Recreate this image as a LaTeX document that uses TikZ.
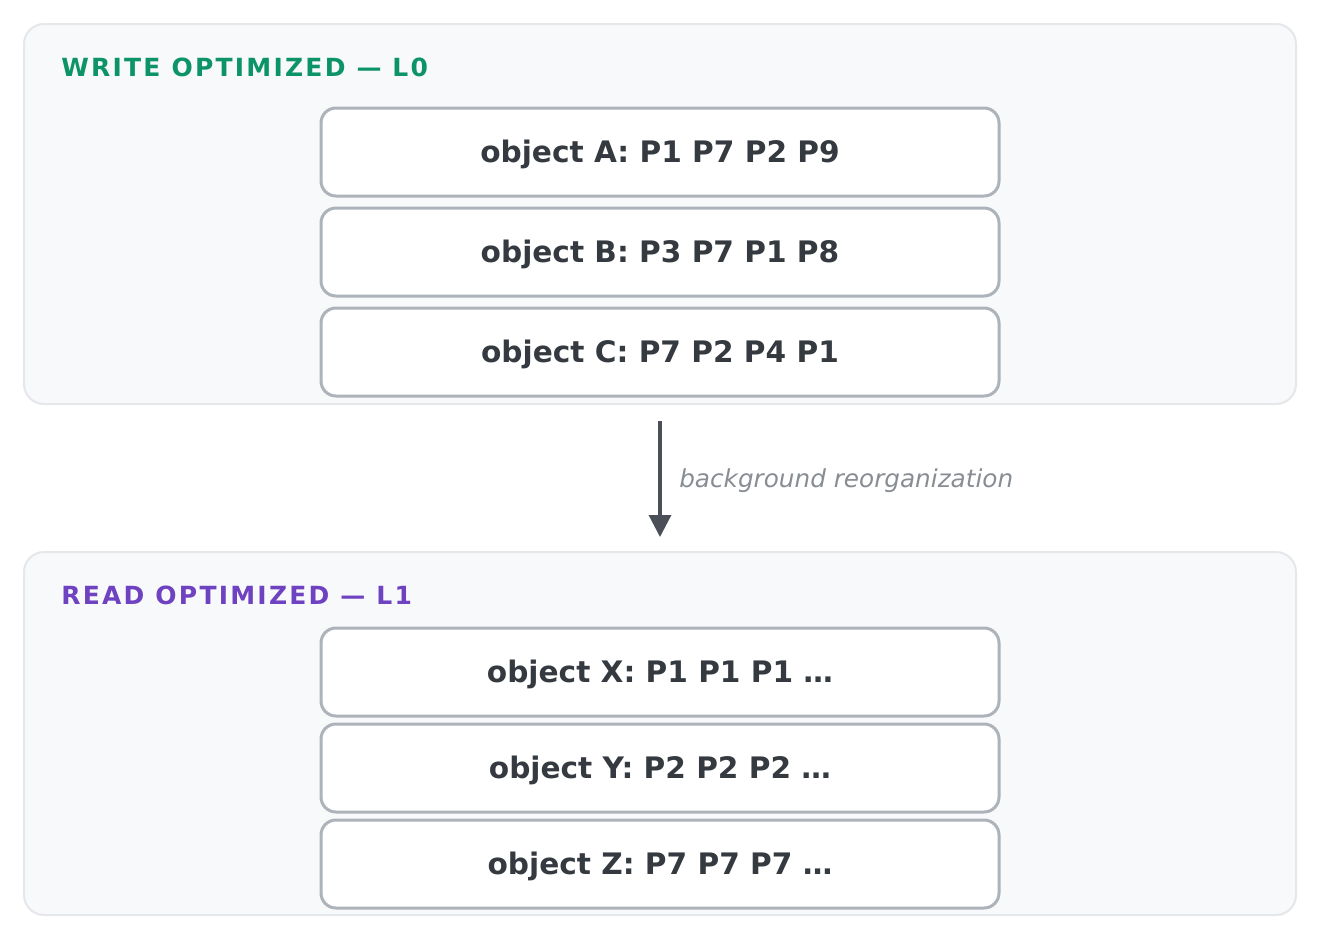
\documentclass[tikz,border=0pt]{standalone}
\usepackage{fontspec}
\setmainfont{DejaVu Sans}
\newfontfamily\tracked{DejaVu Sans}[LetterSpace=9]
\usepackage{tikz}
\usetikzlibrary{arrows.meta}

\definecolor{panelfill}{HTML}{F8F9FB}
\definecolor{paneledge}{HTML}{E5E7EB}
\definecolor{boxedge}{HTML}{ADB3BA}
\definecolor{ink}{HTML}{343A40}
\definecolor{wgreen}{HTML}{0C9466}
\definecolor{rpurple}{HTML}{6F42C1}
\definecolor{arrowgray}{HTML}{4B5058}
\definecolor{notegray}{HTML}{888D94}

\begin{document}
\begin{tikzpicture}[x=1pt, y=-1pt, semithick]
    \tikzstyle{panel}=[rectangle, draw=paneledge, fill=panelfill, line width=2pt, rounded corners=20pt, minimum width=1272pt, inner sep=0pt]
    \tikzstyle{obj}=[rectangle, draw=boxedge, fill=white, line width=3pt, rounded corners=15pt, minimum width=678pt, minimum height=88pt, inner sep=0pt, text height=21.5pt, text depth=0pt, text=ink, font=\fontsize{29.6}{36}\selectfont\bfseries]
    \tikzstyle{title}=[anchor=base west, inner sep=0pt, font=\fontsize{25}{30}\selectfont\tracked\bfseries]

    \useasboundingbox (0,0) rectangle (1320,940);

    % panels
    \node[panel, minimum height=380pt] (l0) at (660,214) {};
    \node[panel, minimum height=363pt] (l1) at (660,733.5) {};

    \node[title, text=wgreen] (t0) at (61,76) {WRITE OPTIMIZED — L0};
    \node[title, text=rpurple] (t1) at (61,604) {READ OPTIMIZED — L1};

    % L0 objects
    \node[obj] (w1) at (660,152) {object A: P1 P7 P2 P9};
    \node[obj] (w2) at (660,252) {object B: P3 P7 P1 P8};
    \node[obj] (w3) at (660,352) {object C: P7 P2 P4 P1};

    % L1 objects
    \node[obj] (r1) at (660,672) {object X: P1 P1 P1 …};
    \node[obj] (r2) at (660,768) {object Y: P2 P2 P2 …};
    \node[obj] (r3) at (660,864) {object Z: P7 P7 P7 …};

    % reorganization
    \draw[-{Triangle[width=22pt,length=22pt]}, arrowgray, line width=3.2pt,
          shorten <=16pt, shorten >=14pt] (l0.south) -- (l1.north);
    \node[anchor=base west, inner sep=0pt, text=notegray,
          font=\fontsize{24.7}{30}\selectfont\itshape] (note) at (679,487) {background reorganization};

\end{tikzpicture}
\end{document}
